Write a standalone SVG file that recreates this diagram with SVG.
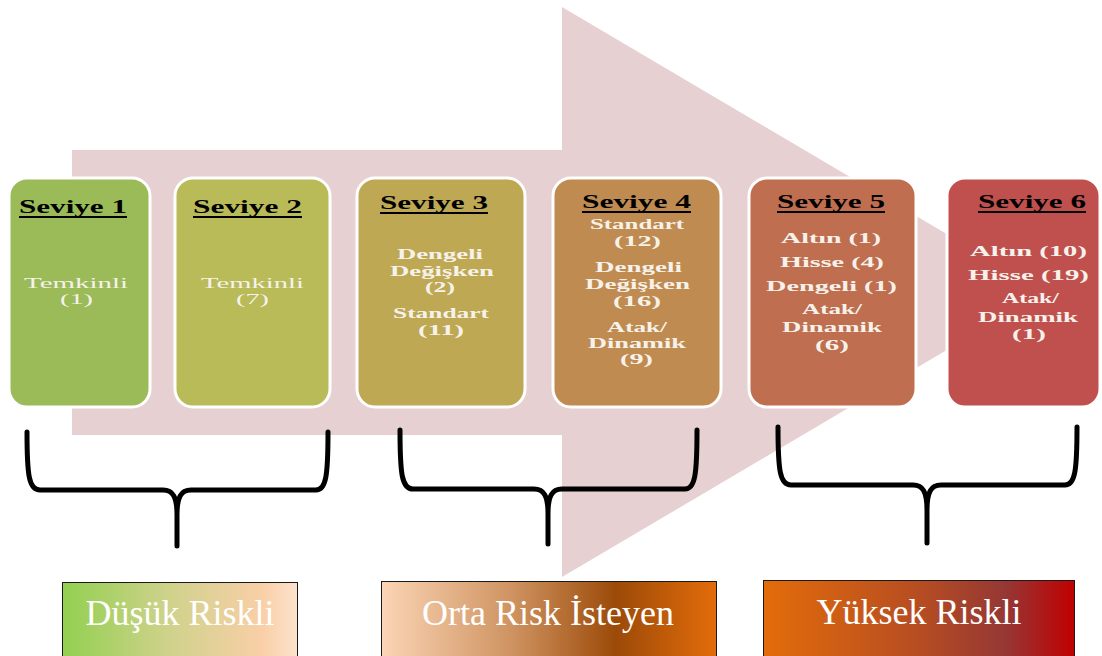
<svg xmlns="http://www.w3.org/2000/svg" width="1102" height="656" viewBox="0 0 1102 656">
<style>
.box{stroke:#ffffff;stroke-width:3}
.hd{font-family:"Liberation Serif","Times New Roman",serif;font-weight:bold;font-size:19px;fill:#000;text-anchor:middle}
.ul{stroke:#000;stroke-width:2}
.bd{font-family:"Liberation Serif","Times New Roman",serif;font-size:15px;fill:#f6f2eb;text-anchor:middle}
.bb{font-weight:bold}
.brace{fill:none;stroke:#000;stroke-width:5;stroke-linecap:round;stroke-linejoin:round}
.lbl{font-family:"Liberation Serif","Times New Roman",serif;font-size:36px;fill:#ffffff;text-anchor:middle}
.lbox{stroke:#1a1a1a;stroke-width:1}
</style>
<defs>
<linearGradient id="gA" x1="0" y1="0" x2="1" y2="0">
<stop offset="0" stop-color="#92d050"/><stop offset="0.45" stop-color="#cfd28b"/><stop offset="0.85" stop-color="#f9cfa7"/><stop offset="1" stop-color="#fde2cd"/>
</linearGradient>
<linearGradient id="gB" x1="0" y1="0" x2="1" y2="0">
<stop offset="0" stop-color="#fbd5b5"/><stop offset="0.4" stop-color="#cd915e"/><stop offset="0.7" stop-color="#9c4a08"/><stop offset="1" stop-color="#e36c0a"/>
</linearGradient>
<linearGradient id="gC" x1="0" y1="0" x2="1" y2="0">
<stop offset="0" stop-color="#e36c0a"/><stop offset="0.5" stop-color="#b64d22"/><stop offset="0.78" stop-color="#953735"/><stop offset="1" stop-color="#c00000"/>
</linearGradient>
</defs>
<rect width="1102" height="656" fill="#ffffff"/>
<g id="arrow">
<polygon points="72,150 562,150 562,7 1045,292 562,577 562,435 72,435" fill="#e7d0d1"/>
</g>
<g id="seviye1">
<rect class="box" x="9" y="178" width="141" height="229" rx="18" fill="#9bbb59"/>
<text class="hd" x="73" y="213" textLength="108" lengthAdjust="spacingAndGlyphs">Seviye 1</text>
<line class="ul" x1="19" y1="217" x2="127" y2="217"/>
<text class="bd" x="76" y="288" textLength="104" lengthAdjust="spacingAndGlyphs">Temkinli</text>
<text class="bd" x="76.5" y="304" textLength="33" lengthAdjust="spacingAndGlyphs">(1)</text>
</g>
<g id="seviye2">
<rect class="box" x="175" y="178" width="155" height="229" rx="18" fill="#b8bb58"/>
<text class="hd" x="247.5" y="213" textLength="109" lengthAdjust="spacingAndGlyphs">Seviye 2</text>
<line class="ul" x1="193" y1="217" x2="302" y2="217"/>
<text class="bd" x="252.5" y="288" textLength="103" lengthAdjust="spacingAndGlyphs">Temkinli</text>
<text class="bd" x="252.5" y="304" textLength="33" lengthAdjust="spacingAndGlyphs">(7)</text>
</g>
<g id="seviye3">
<rect class="box" x="357" y="178" width="168" height="229" rx="18" fill="#bea853"/>
<text class="hd" x="434" y="209" textLength="108" lengthAdjust="spacingAndGlyphs">Seviye 3</text>
<line class="ul" x1="380" y1="213" x2="488" y2="213"/>
<text class="bd bb" x="440" y="259" textLength="86" lengthAdjust="spacingAndGlyphs">Dengeli</text>
<text class="bd bb" x="442" y="276" textLength="104" lengthAdjust="spacingAndGlyphs">Değişken</text>
<text class="bd bb" x="440" y="292" textLength="30" lengthAdjust="spacingAndGlyphs">(2)</text>
<text class="bd bb" x="441" y="318" textLength="96" lengthAdjust="spacingAndGlyphs">Standart</text>
<text class="bd bb" x="441" y="335" textLength="46" lengthAdjust="spacingAndGlyphs">(11)</text>
</g>
<g id="seviye4">
<rect class="box" x="553" y="178" width="168" height="229" rx="18" fill="#bf8b50"/>
<text class="hd" x="636.5" y="208" textLength="109" lengthAdjust="spacingAndGlyphs">Seviye 4</text>
<line class="ul" x1="582" y1="212" x2="691" y2="212"/>
<text class="bd bb" x="637" y="229" textLength="94" lengthAdjust="spacingAndGlyphs">Standart</text>
<text class="bd bb" x="637.5" y="246" textLength="47" lengthAdjust="spacingAndGlyphs">(12)</text>
<text class="bd bb" x="638.5" y="272" textLength="87" lengthAdjust="spacingAndGlyphs">Dengeli</text>
<text class="bd bb" x="637.5" y="289" textLength="105" lengthAdjust="spacingAndGlyphs">Değişken</text>
<text class="bd bb" x="637" y="306" textLength="48" lengthAdjust="spacingAndGlyphs">(16)</text>
<text class="bd bb" x="637" y="332" textLength="60" lengthAdjust="spacingAndGlyphs">Atak/</text>
<text class="bd bb" x="637" y="348" textLength="98" lengthAdjust="spacingAndGlyphs">Dinamik</text>
<text class="bd bb" x="636.5" y="364" textLength="33" lengthAdjust="spacingAndGlyphs">(9)</text>
</g>
<g id="seviye5">
<rect class="box" x="749" y="178" width="167" height="229" rx="18" fill="#bf6e4f"/>
<text class="hd" x="831" y="208" textLength="108" lengthAdjust="spacingAndGlyphs">Seviye 5</text>
<line class="ul" x1="777" y1="212" x2="885" y2="212"/>
<text class="bd bb" x="831" y="243" textLength="100" lengthAdjust="spacingAndGlyphs">Altın (1)</text>
<text class="bd bb" x="832" y="267" textLength="104" lengthAdjust="spacingAndGlyphs">Hisse (4)</text>
<text class="bd bb" x="831.5" y="291" textLength="131" lengthAdjust="spacingAndGlyphs">Dengeli (1)</text>
<text class="bd bb" x="832" y="314" textLength="60" lengthAdjust="spacingAndGlyphs">Atak/</text>
<text class="bd bb" x="832" y="332" textLength="100" lengthAdjust="spacingAndGlyphs">Dinamik</text>
<text class="bd bb" x="832" y="350" textLength="34" lengthAdjust="spacingAndGlyphs">(6)</text>
</g>
<g id="seviye6">
<rect class="box" x="947" y="178" width="153" height="229" rx="18" fill="#c0504d"/>
<text class="hd" x="1032" y="208" textLength="108" lengthAdjust="spacingAndGlyphs">Seviye 6</text>
<line class="ul" x1="978" y1="212" x2="1086" y2="212"/>
<text class="bd bb" x="1028.5" y="256" textLength="117" lengthAdjust="spacingAndGlyphs">Altın (10)</text>
<text class="bd bb" x="1028.5" y="280" textLength="121" lengthAdjust="spacingAndGlyphs">Hisse (19)</text>
<text class="bd bb" x="1030.5" y="303" textLength="57" lengthAdjust="spacingAndGlyphs">Atak/</text>
<text class="bd bb" x="1028" y="322" textLength="100" lengthAdjust="spacingAndGlyphs">Dinamik</text>
<text class="bd bb" x="1029" y="339" textLength="34" lengthAdjust="spacingAndGlyphs">(1)</text>
</g>
<g id="connectors">
<path class="brace" d="M27,432 C27,476 29,490 40,490 L163,490 C173,490 177,497 177,515 L177,546 M177,515 C177,497 181,490 191,490 L316,490 C326,490 328,476 328,432"/>
<path class="brace" d="M400,430 C400,475 402,489 413,489 L534,489 C544,489 548,496 548,514 L548,544 M548,514 C548,496 552,489 562,489 L685,489 C695,489 697,475 697,430"/>
<path class="brace" d="M778,427 C778,471 780,485 791,485 L913,485 C923,485 927,492 927,510 L927,543 M927,510 C927,492 931,485 941,485 L1065,485 C1075,485 1077,471 1077,427"/>
</g>
<g id="dusuk">
<rect class="lbox" x="62.5" y="582.5" width="235" height="80" fill="url(#gA)"/>
<text class="lbl" x="180" y="625">Düşük Riskli</text>
</g>
<g id="orta">
<rect class="lbox" x="381.5" y="581.5" width="335" height="80" fill="url(#gB)"/>
<text class="lbl" x="548" y="625">Orta Risk İsteyen</text>
</g>
<g id="yuksek">
<rect class="lbox" x="763.5" y="580.5" width="311" height="80" fill="url(#gC)"/>
<text class="lbl" x="919" y="624">Yüksek Riskli</text>
</g>
</svg>
